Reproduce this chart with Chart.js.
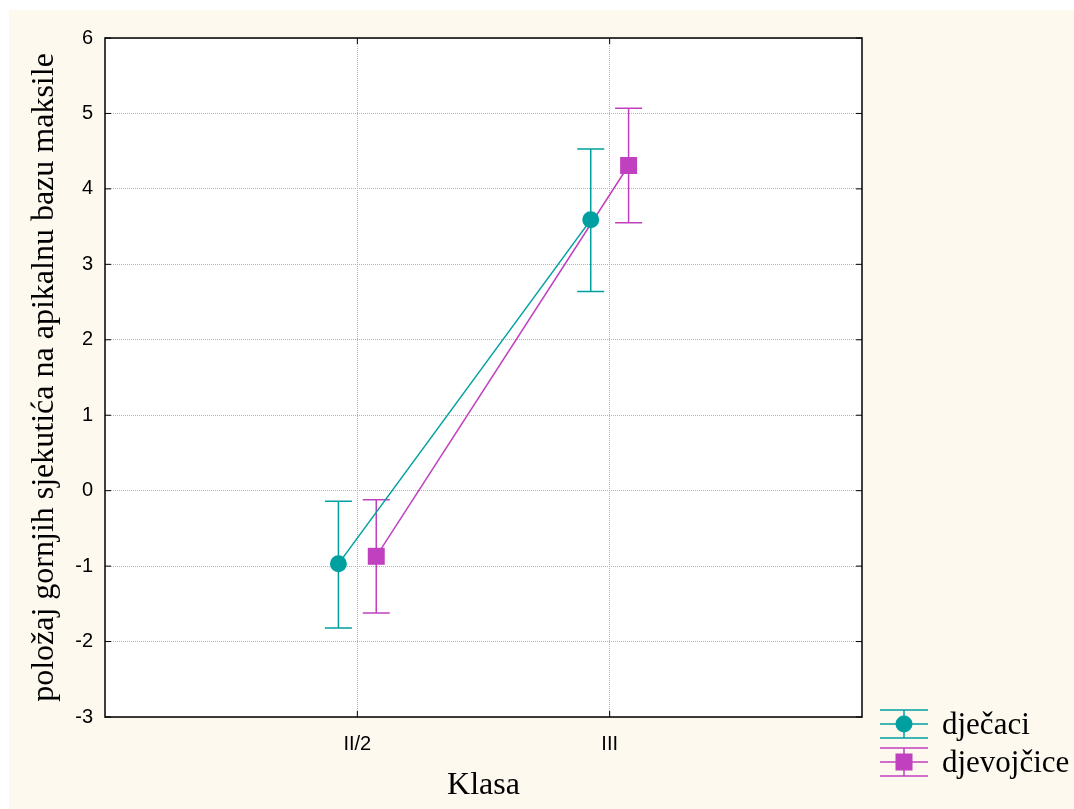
<!DOCTYPE html>
<html>
<head>
<meta charset="utf-8">
<script src="https://cdn.jsdelivr.net/npm/chart.js@4"></script>
<style>
  html, body { margin: 0; padding: 0; background: #ffffff; }
  #wrap { width: 1074px; height: 809px; position: relative; }
</style>
</head>
<body>
<div id="wrap"><canvas id="grafico"></canvas></div>
<script>
// Datos
const categorias = ['II/2', 'III'];
const series = ['dječaci', 'djevojčice'];
const mediaDjecaci = [-0.97, 3.59];
const gornjaDjecaci = [-0.14, 4.53];
const donjaDjecaci = [-1.82, 2.64];
const mediaDjevojcice = [-0.87, 4.31];
const gornjaDjevojcice = [-0.12, 5.07];
const donjaDjevojcice = [-1.62, 3.55];
const yTicks = [-3, -2, -1, 0, 1, 2, 3, 4, 5, 6];

const TEAL = '#00a0a0';
const MAGENTA = '#c040c0';
const POMAK = 0.075; // desplazamiento horizontal de cada serie
const SERIF = '"Liberation Serif", "Times New Roman", serif';
const SANS = '"Liberation Sans", Arial, sans-serif';

function puntos(medias, pomak) {
    return medias.map((v, i) => ({ x: i + 1 + pomak, y: v }));
}

// Fondo crema y área blanca
const fondoPlugin = {
    id: 'fondo',
    beforeDraw(chart) {
        const ctx = chart.ctx;
        const a = chart.chartArea;
        ctx.save();
        ctx.fillStyle = '#fdf9ef';
        ctx.fillRect(9, 10, chart.width - 9, chart.height - 10);
        ctx.fillStyle = '#ffffff';
        ctx.fillRect(a.left, a.top, a.right - a.left, a.bottom - a.top);
        ctx.restore();
    }
};

// Barras de error y marco del área
const errorPlugin = {
    id: 'errorBars',
    beforeDatasetsDraw(chart) {
        const ctx = chart.ctx;
        const a = chart.chartArea;
        const xs = chart.scales.x;
        const ys = chart.scales.y;
        ctx.save();
        ctx.strokeStyle = '#000';
        ctx.lineWidth = 1.5;
        ctx.strokeRect(a.left, a.top, a.right - a.left, a.bottom - a.top);
        // marcas de los ejes hacia dentro
        ctx.lineWidth = 1;
        categorias.forEach((c, i) => {
            const px = xs.getPixelForValue(i + 1);
            ctx.beginPath();
            ctx.moveTo(px, a.bottom);
            ctx.lineTo(px, a.bottom - 6);
            ctx.moveTo(px, a.top);
            ctx.lineTo(px, a.top + 6);
            ctx.stroke();
        });
        yTicks.forEach(t => {
            const py = ys.getPixelForValue(t);
            ctx.beginPath();
            ctx.moveTo(a.left, py);
            ctx.lineTo(a.left + 6, py);
            ctx.moveTo(a.right, py);
            ctx.lineTo(a.right - 6, py);
            ctx.stroke();
        });
        chart.data.datasets.forEach(ds => {
            ctx.strokeStyle = ds.borderColor;
            ctx.lineWidth = 1.5;
            ds.data.forEach((p, i) => {
                const px = xs.getPixelForValue(p.x);
                const top = ys.getPixelForValue(ds.gornja[i]);
                const bot = ys.getPixelForValue(ds.donja[i]);
                ctx.beginPath();
                ctx.moveTo(px, top);
                ctx.lineTo(px, bot);
                ctx.moveTo(px - 13.5, top);
                ctx.lineTo(px + 13.5, top);
                ctx.moveTo(px - 13.5, bot);
                ctx.lineTo(px + 13.5, bot);
                ctx.stroke();
            });
        });
        ctx.restore();
    }
};

// Leyenda propia en la esquina inferior derecha
const leyendaPlugin = {
    id: 'leyenda',
    afterDraw(chart) {
        const ctx = chart.ctx;
        ctx.save();
        chart.data.datasets.forEach((ds, i) => {
            const cy = 724 + i * 38;
            const x0 = 880, x1 = 928, cx = 904;
            ctx.strokeStyle = ds.borderColor;
            ctx.lineWidth = 1.5;
            ctx.beginPath();
            [-14, 0, 14].forEach(d => {
                ctx.moveTo(x0, cy + d);
                ctx.lineTo(x1, cy + d);
            });
            ctx.moveTo(cx, cy - 14);
            ctx.lineTo(cx, cy + 14);
            ctx.stroke();
            ctx.fillStyle = ds.backgroundColor;
            if (ds.pointStyle === 'rect') {
                ctx.fillRect(cx - 8.5, cy - 8.5, 17, 17);
            } else {
                ctx.beginPath();
                ctx.arc(cx, cy, 8.5, 0, Math.PI * 2);
                ctx.fill();
            }
            ctx.fillStyle = '#000';
            ctx.font = '31px ' + SERIF;
            ctx.textBaseline = 'alphabetic';
            ctx.fillText(ds.label, 942, cy + 10);
        });
        ctx.restore();
    }
};

document.addEventListener('DOMContentLoaded', function () {
    const ctx = document.getElementById('grafico');
    new Chart(ctx, {
        type: 'line',
        data: {
            datasets: [{
                label: series[0],
                data: puntos(mediaDjecaci, -POMAK),
                gornja: gornjaDjecaci,
                donja: donjaDjecaci,
                borderColor: TEAL,
                backgroundColor: TEAL,
                borderWidth: 1.5,
                pointStyle: 'circle',
                pointRadius: 8.5,
                pointBorderWidth: 0,
                fill: false
            }, {
                label: series[1],
                data: puntos(mediaDjevojcice, POMAK),
                gornja: gornjaDjevojcice,
                donja: donjaDjevojcice,
                borderColor: MAGENTA,
                backgroundColor: MAGENTA,
                borderWidth: 1.5,
                pointStyle: 'rect',
                pointRadius: 12,
                pointBorderWidth: 0,
                fill: false
            }]
        },
        options: {
            responsive: true,
            maintainAspectRatio: false,
            animation: false,
            layout: { padding: { top: 38, right: 212, left: 0, bottom: 0 } },
            plugins: {
                legend: { display: false },
                tooltip: { enabled: false }
            },
            scales: {
                x: {
                    type: 'linear',
                    min: 0,
                    max: 3,
                    afterBuildTicks(scale) {
                        scale.ticks = categorias.map((c, i) => ({ value: i + 1 }));
                    },
                    afterFit(scale) { scale.height = 92; },
                    ticks: {
                        color: '#000',
                        font: { family: SANS, size: 20 },
                        padding: 15,
                        maxRotation: 0,
                        callback: v => categorias[v - 1]
                    },
                    grid: { color: '#b4b4b4', lineWidth: 1, drawTicks: false },
                    border: { display: false, dash: [1, 1] },
                    title: {
                        display: true,
                        text: 'Klasa',
                        color: '#000',
                        font: { family: SERIF, size: 32 },
                        padding: { top: 0, bottom: 4 }
                    }
                },
                y: {
                    min: -3,
                    max: 6,
                    afterBuildTicks(scale) {
                        scale.ticks = yTicks.map(v => ({ value: v }));
                    },
                    afterFit(scale) { scale.width = 105; },
                    ticks: {
                        color: '#000',
                        font: { family: SANS, size: 20 },
                        padding: 12
                    },
                    grid: { color: '#b4b4b4', lineWidth: 1, drawTicks: false },
                    border: { display: false, dash: [1, 1] },
                    title: {
                        display: true,
                        text: 'položaj gornjih sjekutića na apikalnu bazu maksile',
                        color: '#000',
                        font: { family: SERIF, size: 32 },
                        padding: { top: 25, bottom: 0 }
                    }
                }
            }
        },
        plugins: [fondoPlugin, errorPlugin, leyendaPlugin]
    });
});
</script>
</body>
</html>
